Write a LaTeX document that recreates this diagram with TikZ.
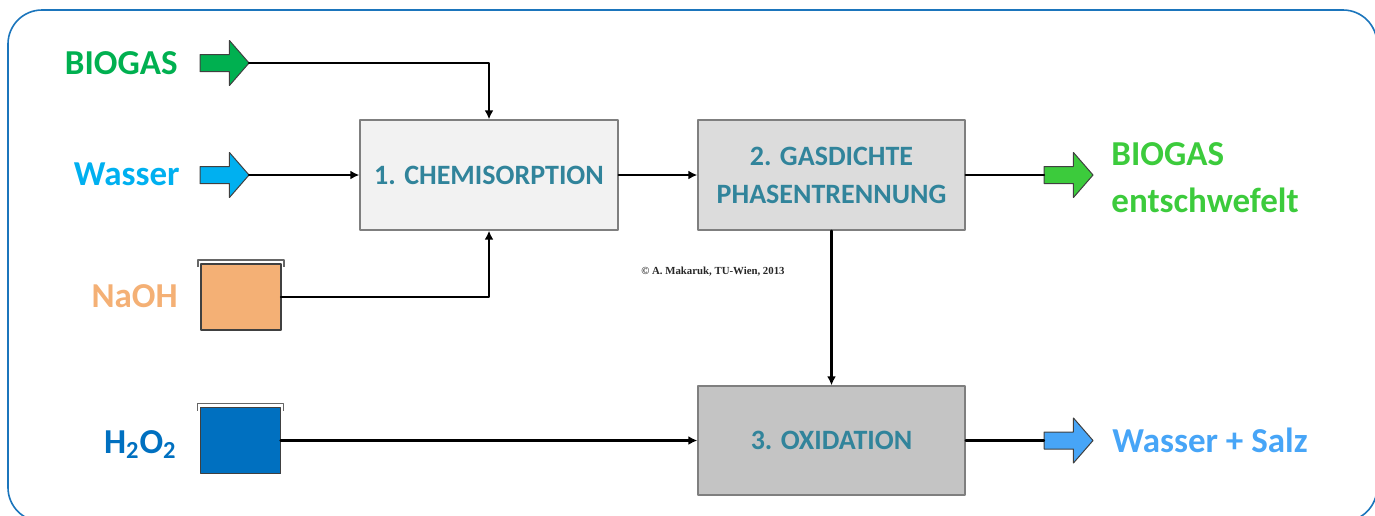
\documentclass[tikz,border=0pt]{standalone}
\usepackage{fontspec}
\setmainfont{Carlito}
\newfontfamily\timesfont{Liberation Serif}
\usetikzlibrary{shapes.arrows,arrows.meta}
\definecolor{frameblue}{HTML}{1B75BC}
\definecolor{boxgray}{HTML}{7F7F7F}
\definecolor{rimgray}{HTML}{404040}
\definecolor{tealtext}{HTML}{31849B}
\definecolor{chemfill}{HTML}{F2F2F2}
\definecolor{phasefill}{HTML}{DCDCDC}
\definecolor{oxidfill}{HTML}{C4C4C4}
\definecolor{gasgreen}{HTML}{00B050}
\definecolor{watercyan}{HTML}{00B0F0}
\definecolor{naohfill}{HTML}{F4B075}
\definecolor{peroxfill}{HTML}{0070C0}
\definecolor{cleangreen}{HTML}{3CCB3C}
\definecolor{saltblue}{HTML}{47A5F7}
\begin{document}
\begin{tikzpicture}[x=0.5pt,y=-0.5pt,line cap=round,line join=round,>={Latex[length=4.5pt,width=4.5pt]},
  frame/.style={draw=frameblue,line width=0.8pt,rounded corners=17pt},
  process/.style={draw=boxgray,line width=0.7pt,minimum width=133.5pt,minimum height=55pt,
    align=center,text=tealtext,font=\fontsize{14}{19}\selectfont\bfseries,inner sep=0pt},
  fatarrow/.style={single arrow,draw=rimgray,line width=0.5pt,minimum height=24.5pt,inner xsep=0pt,
    inner ysep=4pt,single arrow head extend=7pt,single arrow tip angle=98,outer sep=0pt},
  tank/.style={draw=rimgray,line width=0.6pt,minimum width=40pt,minimum height=33pt,inner sep=0pt,outer sep=0pt},
  lid/.style={draw=rimgray!80,line width=0.6pt,line cap=butt},
  flow/.style={line width=1.1pt},
  stream/.style={font=\fontsize{17.5}{23.5}\selectfont\bfseries,inner sep=0pt}]
  \useasboundingbox (0,0) rectangle (1375,515);
  \begin{scope}
    \clip (0,0) rectangle (1375,515);
    \draw[frame] (8,10) rectangle (1377,521.5);
  \end{scope}
  \node[process,fill=chemfill,minimum width=129pt] (chem) at (489,175) {1. CHEMISORPTION};
  \node[process,fill=phasefill] (phase) at (831.5,175) {2. GASDICHTE\\PHASENTRENNUNG};
  \node[process,fill=oxidfill,minimum height=54.5pt] (oxid) at (831.5,440.5) {3. OXIDATION};
  \node[fatarrow,fill=gasgreen,anchor=tail] (inbio) at (200,63) {};
  \node[fatarrow,fill=watercyan,anchor=tail] (inwater) at (200,175) {};
  \node[fatarrow,fill=cleangreen,anchor=tail] (outbio) at (1044,175) {};
  \node[fatarrow,fill=saltblue,anchor=tail] (outsalt) at (1044,440.5) {};
  \node[tank,fill=naohfill] (naoh) at (241,297) {};
  \node[tank,fill=peroxfill] (perox) at (240.5,440.5) {};
  \draw[lid] ([shift={(-1.5pt,-1.5pt)}]naoh.north west) -- ++(0,3.5pt) -- ([shift={(1.5pt,2pt)}]naoh.north east) -- ++(0,-3.5pt);
  \draw[lid] ([shift={(-1.5pt,-1.5pt)}]perox.north west) -- ++(0,3.5pt) -- ([shift={(1.5pt,2pt)}]perox.north east) -- ++(0,-3.5pt);
  \node[stream,text=gasgreen,anchor=base east] (lbio) at (178,74) {BIOGAS};
  \node[stream,text=watercyan,anchor=base east] (lwater) at (180,185) {Wasser};
  \node[stream,text=naohfill,anchor=base east] (lnaoh) at (178,307) {NaOH};
  \node[stream,text=peroxfill,anchor=base east] (lperox) at (177,453) {H\textsubscript{2}O\textsubscript{2}};
  \node[stream,text=cleangreen,anchor=base west,align=left] (lclean) at (1111,212) {BIOGAS\\entschwefelt};
  \node[stream,text=saltblue,anchor=base west] (lsalt) at (1112,452) {Wasser + Salz};
  \node[font=\timesfont\fontsize{5.4}{6}\selectfont\bfseries,text=black!85] (credit) at (713,272) {© A. Makaruk, TU-Wien, 2013};
  \draw[flow,->] (inbio.tip) -| (chem.north);
  \draw[flow,->] (inwater.tip) -- (chem.west);
  \draw[flow,->] (naoh.east) -| (chem.south);
  \draw[flow,->] (chem.east) -- (phase.west);
  \draw[flow] (phase.east) -- (outbio.tail);
  \draw[flow,->] (phase.south) -- (oxid.north);
  \draw[flow,->] (perox.east) -- (oxid.west);
  \draw[flow] (oxid.east) -- (outsalt.tail);
\end{tikzpicture}
\end{document}
